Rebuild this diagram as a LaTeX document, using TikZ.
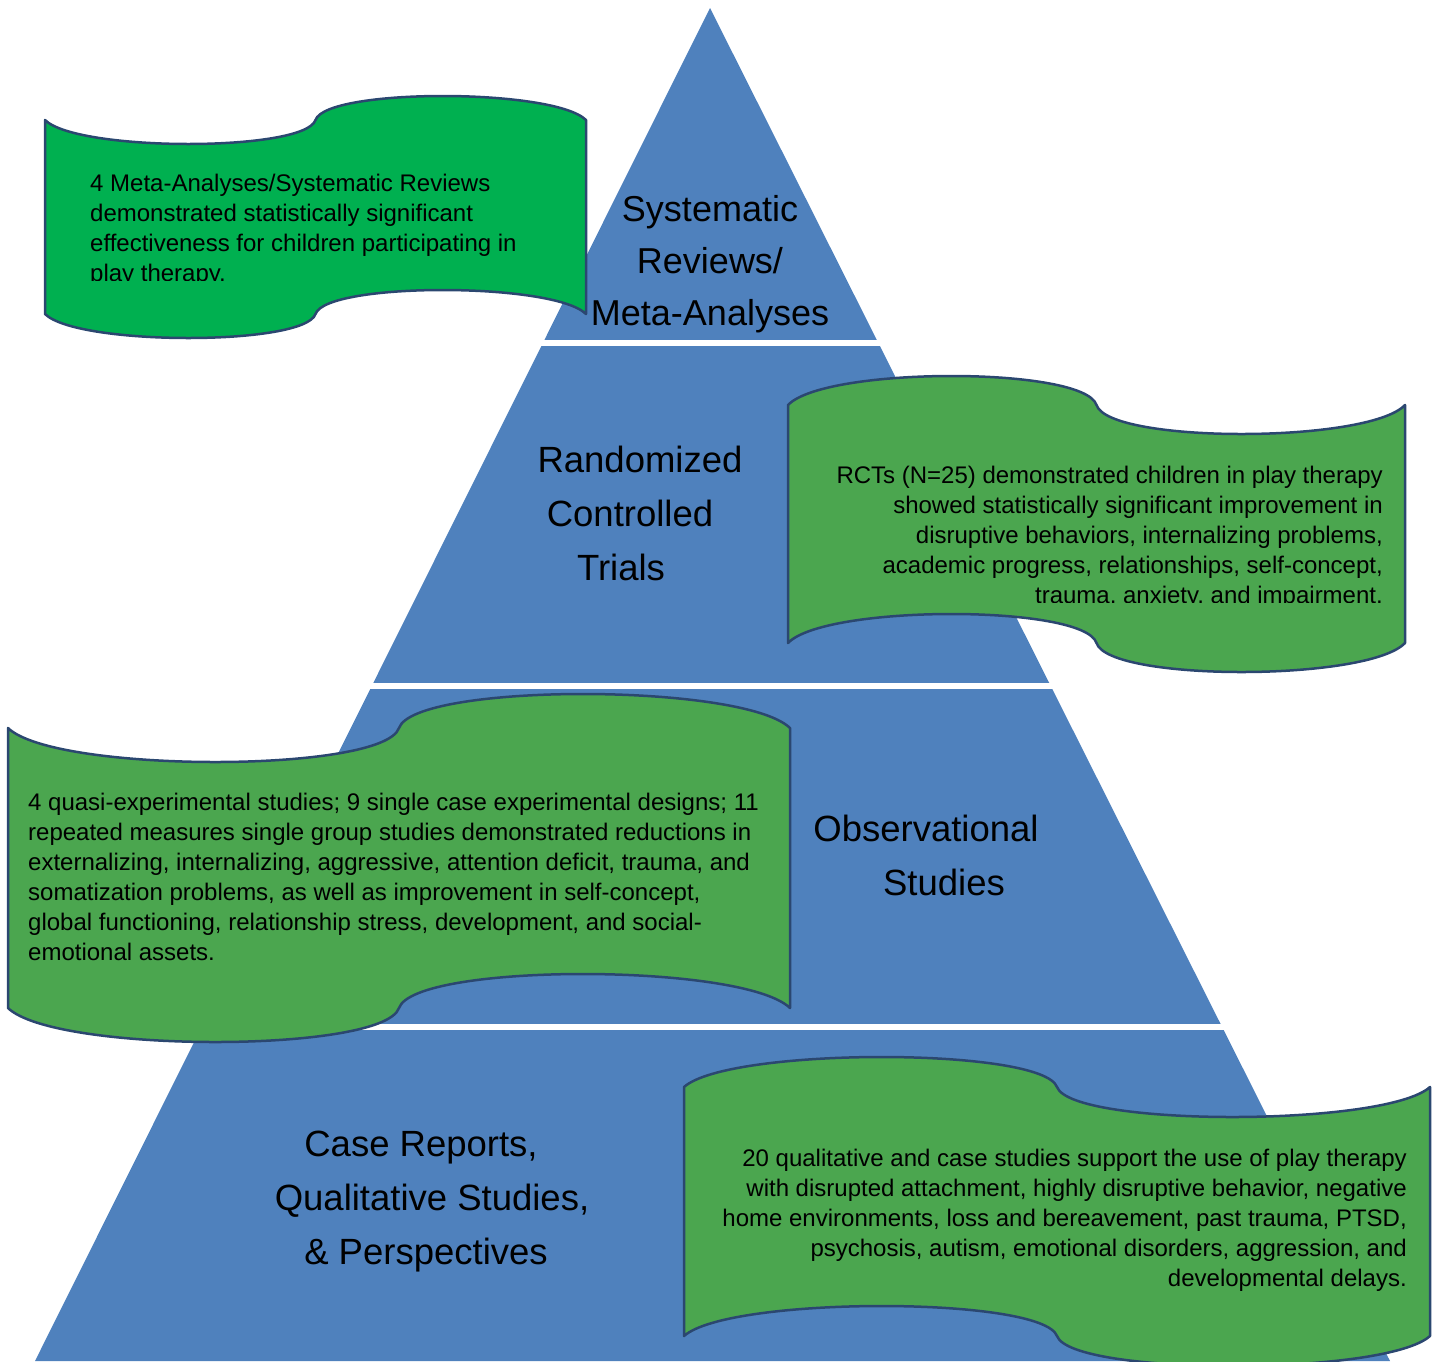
\documentclass[tikz,border=0pt]{standalone}
\usepackage{fontspec}
\setmainfont{Liberation Sans}

\definecolor{pyrblue}{HTML}{4F81BD}
\definecolor{topgreen}{HTML}{00B050}
\definecolor{bannergreen}{HTML}{4BA64F}
\definecolor{bannerline}{HTML}{2B4770}

\tikzset{
  banner/.style={draw=bannerline, line width=2.5pt, line join=round},
  bannertext/.style={font=\fontsize{24}{30}\selectfont, inner sep=0pt},
  tierlabel/.style={font=\fontsize{36.5}{54}\selectfont, align=center, inner sep=0pt, anchor=base}
}

% wavy banner: left x, right x, top y, height, swing of the wave, fill
\newcommand{\wavebanner}[6]{%
  \pgfmathsetmacro{\bmid}{(#1+#2)/2}%
  \pgfmathsetmacro{\bhalf}{(#2-#1)/2}%
  \pgfmathsetmacro{\btop}{#3}%
  \pgfmathsetmacro{\bbot}{#3+#4}%
  \pgfmathsetmacro{\bdip}{4*#5/3}%
  \draw[banner, fill=#6]
    (#1,\btop) .. controls ({#1+0.12*\bhalf},{\btop+\bdip}) and ({\bmid-0.04*\bhalf},{\btop+\bdip}) .. (\bmid,\btop)
    .. controls ({\bmid+0.04*\bhalf},{\btop-\bdip}) and ({#2-0.12*\bhalf},{\btop-\bdip}) .. (#2,\btop)
    -- (#2,\bbot)
    .. controls ({#2-0.12*\bhalf},{\bbot-\bdip}) and ({\bmid+0.04*\bhalf},{\bbot-\bdip}) .. (\bmid,\bbot)
    .. controls ({\bmid-0.04*\bhalf},{\bbot+\bdip}) and ({#1+0.12*\bhalf},{\bbot+\bdip}) .. (#1,\bbot)
    -- cycle;}

\begin{document}
\begin{tikzpicture}[x=1pt, y=-1pt, line join=round]
  \useasboundingbox (0,0) rectangle (1437,1361);

  % pyramid, cut into four tiers by white gaps
  \fill[pyrblue] (710,8) -- (1390,1361) -- (35,1361) -- cycle;
  \foreach \y in {343,685.5,1026.5}{
    \draw[white, line width=6pt] (300,\y) -- (1300,\y);
  }

  % labels sit on the baseline of their last line
  \node[tierlabel, font=\fontsize{36}{52}\selectfont] (metalabel) at (710,325)
    {Systematic\\Reviews/\\Meta-Analyses};
  \node[tierlabel] (rctlabel) at (630,580)
    {\hspace*{20pt}Randomized\\Controlled\\Trials\hspace*{18pt}};
  \node[tierlabel] (obslabel) at (935,895)
    {Observational\hspace*{18pt}\\\hspace*{18pt}Studies};
  \node[tierlabel] (caselabel) at (432,1264)
    {Case Reports,\hspace*{22pt}\\Qualitative Studies,\\\& Perspectives\hspace*{12pt}};

  % banners with the findings
  \wavebanner{45}{586}{120}{194}{24}{topgreen}
  \begin{scope}
    \clip (45,100) rectangle (586,280);
    \node[bannertext, anchor=base west, align=left] (metatext) at (90,281.5)
      {4 Meta-Analyses/Systematic Reviews\\demonstrated statistically significant\\effectiveness for children participating in\\play therapy.};
  \end{scope}

  \wavebanner{788}{1405}{405}{238}{-29}{bannergreen}
  \begin{scope}
    \clip (788,380) rectangle (1405,602);
    \node[bannertext, anchor=base east, align=right] (rcttext) at (1383,603.5)
      {RCTs (N=25) demonstrated children in play therapy\\showed statistically significant improvement in\\disruptive behaviors, internalizing problems,\\academic progress, relationships, self-concept,\\trauma, anxiety, and impairment.};
  \end{scope}

  \wavebanner{8}{790}{728}{280}{34}{bannergreen}
  \node[bannertext, anchor=base west, align=left] (obstext) at (28,960.5)
    {4 quasi-experimental studies; 9 single case experimental designs; 11\\repeated measures single group studies demonstrated reductions in\\externalizing, internalizing, aggressive, attention deficit, trauma, and\\somatization problems, as well as improvement in self-concept,\\global functioning, relationship stress, development, and social-\\emotional assets.};

  \wavebanner{684}{1430}{1087}{249}{-30}{bannergreen}
  \node[bannertext, anchor=base east, align=right] (casetext) at (1407,1286.5)
    {20 qualitative and case studies support the use of play therapy\\with disrupted attachment, highly disruptive behavior, negative\\home environments, loss and bereavement, past trauma, PTSD,\\psychosis, autism, emotional disorders, aggression, and\\developmental delays.};

\end{tikzpicture}
\end{document}
